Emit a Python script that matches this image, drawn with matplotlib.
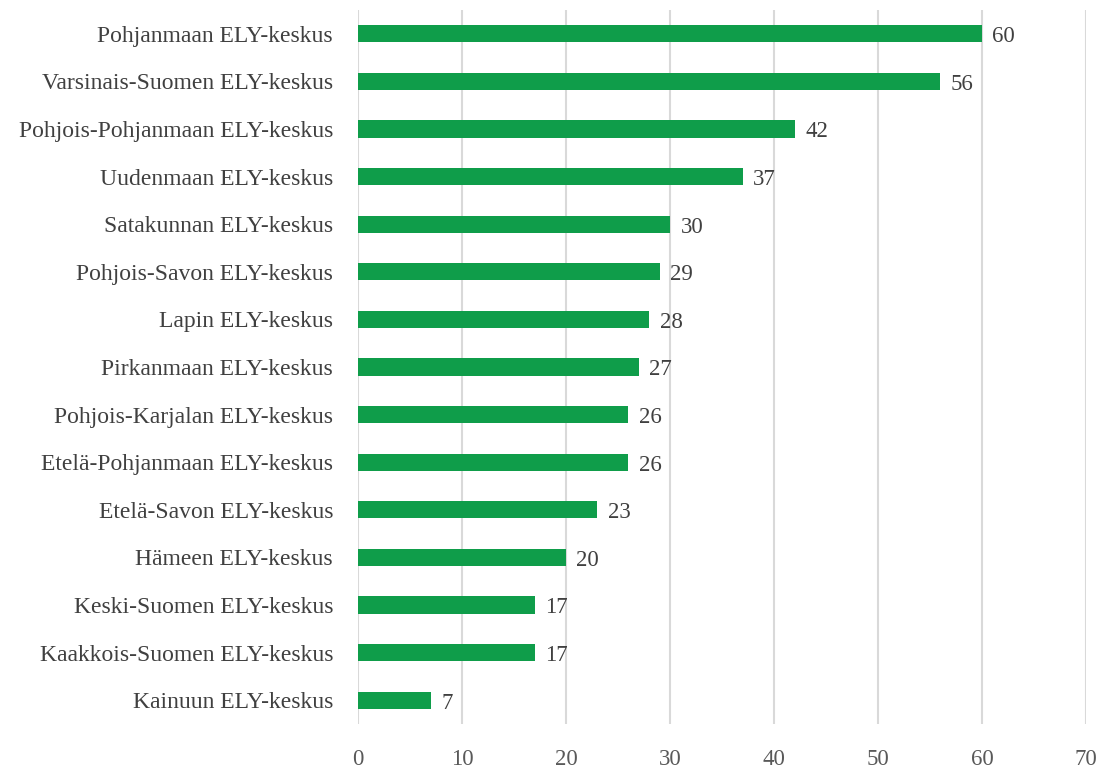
import matplotlib
matplotlib.use('Agg')
import matplotlib.pyplot as plt

plt.rcParams['font.family'] = ['Liberation Serif', 'DejaVu Serif']

# Data (top to bottom as in the chart)
regions = [
    'Pohjanmaan ELY-keskus',
    'Varsinais-Suomen ELY-keskus',
    'Pohjois-Pohjanmaan ELY-keskus',
    'Uudenmaan ELY-keskus',
    'Satakunnan ELY-keskus',
    'Pohjois-Savon ELY-keskus',
    'Lapin ELY-keskus',
    'Pirkanmaan ELY-keskus',
    'Pohjois-Karjalan ELY-keskus',
    'Etelä-Pohjanmaan ELY-keskus',
    'Etelä-Savon ELY-keskus',
    'Hämeen ELY-keskus',
    'Keski-Suomen ELY-keskus',
    'Kaakkois-Suomen ELY-keskus',
    'Kainuun ELY-keskus',
]
counts = [60, 56, 42, 37, 30, 29, 28, 27, 26, 26, 23, 20, 17, 17, 7]
xticks = [0, 10, 20, 30, 40, 50, 60, 70]

bar_color = '#0F9D4A'
text_color = '#404040'

fig = plt.figure(figsize=(11.03, 7.69), dpi=100)
ax = fig.add_axes([0.3246, 0.0585, 0.66, 0.9285])

ypos = list(range(len(regions)))[::-1]
ax.barh(ypos, counts, height=0.36, color=bar_color, zorder=3)

for y, v in zip(ypos, counts):
    ax.text(v + 1.0, y - 0.06, str(v), va='center', ha='left', fontsize=16.5, color=text_color)

ax.set_xlim(0, 70)
ax.set_ylim(-0.5, len(regions) - 0.5)
ax.set_xticks(xticks)
ax.set_yticks(ypos)
ax.set_yticklabels(regions)
ax.tick_params(axis='y', length=0, pad=18, labelsize=17, labelcolor=text_color)
ax.tick_params(axis='x', length=0, pad=18, labelsize=16.5, labelcolor='#595959')

ax.grid(axis='x', color='#D9D9D9', linewidth=1.5, zorder=0)
for s in ax.spines.values():
    s.set_visible(False)

fig.savefig('out.png', dpi=100)
